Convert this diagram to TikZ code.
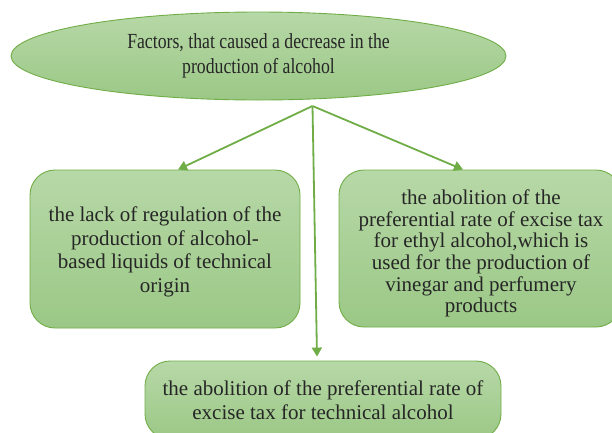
\documentclass[tikz,border=0pt]{standalone}
\usepackage{fontspec}
\setmainfont{Liberation Serif}
\newfontfamily\condfont[FakeStretch=0.825]{Liberation Serif}
\usetikzlibrary{shapes.geometric,arrows.meta}
\definecolor{gtop}{HTML}{B7D8A7}
\definecolor{gbot}{HTML}{9BC886}
\definecolor{gline}{HTML}{70AD47}
\definecolor{txt}{HTML}{262626}
\tikzset{
  box/.style={draw=gline, line width=0.9pt, top color=gtop, bottom color=gbot,
    rounded corners=25pt, inner sep=0pt},
  boxtext/.style={inner sep=0pt, align=center, text=txt, font=\fontsize{21}{23.5}\selectfont},
  oval/.style={ellipse, draw=gline, line width=0.9pt, top color=gtop, bottom color=gbot,
    inner sep=0pt, align=center, text=txt, font=\condfont\fontsize{21.5}{25}\selectfont},
  conn/.style={draw=gline, line width=1.8pt, -{Triangle[length=9pt,width=10pt]}}
}
\begin{document}
\begin{tikzpicture}[x=1pt,y=-1pt]
\useasboundingbox (0,0) rectangle (612,432);
\clip (0,0) rectangle (612,432);
\node[oval, minimum width=495pt, minimum height=88pt] (top) at (258.5,56)
  {Factors, that caused a decrease in the\\production of alcohol};
\node[box, minimum width=270pt, minimum height=158pt] (left) at (165,249) {};
\node[boxtext] (lefttext) at ([yshift=-3pt]left.center)
  {the lack of regulation of the\\production of alcohol-\\based liquids of technical\\origin};
\node[box, minimum width=282pt, minimum height=157pt] (right) at (480,248.5) {};
\node[boxtext, font=\fontsize{21}{21.7}\selectfont] (righttext) at ([xshift=1pt,yshift=-5pt]right.center)
  {the abolition of the\\preferential rate of excise tax\\for ethyl alcohol,which is\\used for the production of\\vinegar and perfumery\\products};
\node[box, minimum width=356pt, minimum height=78pt] (bottom) at (323,400) {};
\node[boxtext, font=\fontsize{21}{24}\selectfont] (bottomtext) at (bottom.center)
  {the abolition of the preferential rate of\\excise tax for technical alcohol};
\coordinate (o) at (312.5,106);
\draw[conn] (o) -- ([xshift=13pt]left.north);
\draw[conn] (o) -- ([xshift=-17pt]right.north);
\draw[conn] (o) -- ([xshift=-6pt,yshift=4pt]bottom.north);
\end{tikzpicture}
\end{document}
